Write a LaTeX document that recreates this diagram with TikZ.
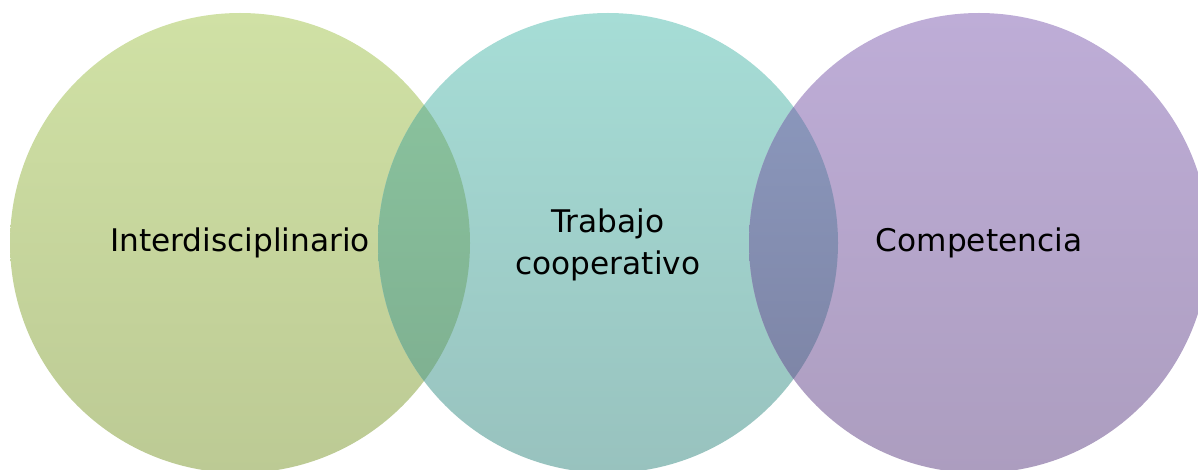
\documentclass[tikz,border=0pt]{standalone}
\usepackage{fontspec}
\setmainfont{DejaVu Sans}
\usetikzlibrary{positioning}
\definecolor{grntop}{RGB}{208,225,165}
\definecolor{grnbot}{RGB}{188,202,148}
\definecolor{tealtop}{RGB}{166,221,214}
\definecolor{tealbot}{RGB}{152,194,190}
\definecolor{purtop}{RGB}{190,173,215}
\definecolor{purbot}{RGB}{172,157,191}
\definecolor{gtlaptop}{RGB}{140,198,160}
\definecolor{gtlapbot}{RGB}{124,172,142}
\definecolor{tplaptop}{RGB}{142,156,194}
\definecolor{tplapbot}{RGB}{122,128,160}
\tikzstyle{lbl}= [align=center, font=\fontsize{15.6}{21}\selectfont]

\begin{document}
\begin{tikzpicture}[x=0.5pt, y=-0.5pt]
				\useasboundingbox (0,0) rectangle (1198,470);
				\clip (0,0) rectangle (1198,470);
				\coordinate (cl) at (240,243);
				\coordinate (cm) at (608,243);
				\coordinate (cr) at (979,243);
				
				\shade[top color=grntop, bottom color=grnbot] (cl) circle[radius=115pt];
				\shade[top color=tealtop, bottom color=tealbot] (cm) circle[radius=115pt];
				\shade[top color=purtop, bottom color=purbot] (cr) circle[radius=115pt];
				
				\begin{scope}
				\clip (cl) circle[radius=115pt];
				\shade[top color=gtlaptop, bottom color=gtlapbot] (cm) circle[radius=115pt];
				\end{scope}
				\begin{scope}
				\clip (cm) circle[radius=115pt];
				\shade[top color=tplaptop, bottom color=tplapbot] (cr) circle[radius=115pt];
				\end{scope}
				
				\node[lbl] (inter) at (240,243) {Interdisciplinario};
				\node[lbl] (trab) at (608,245) {Trabajo\\cooperativo};
				\node[lbl] (comp) at (979,243) {Competencia};
			\end{tikzpicture}
\end{document}
